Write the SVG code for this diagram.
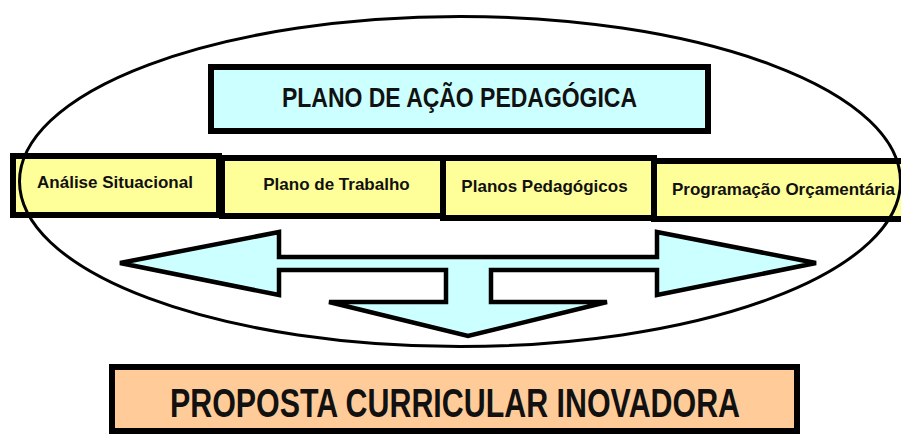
<svg xmlns="http://www.w3.org/2000/svg" width="901" height="435" viewBox="0 0 901 435">
<style>
.box{stroke:#000;stroke-width:6}
.cyan{fill:#CCFFFF}
.yellow{fill:#FFFF99}
.orange{fill:#FFCC99}
.lbl{font-family:"Liberation Sans",Arial,sans-serif;font-weight:bold;fill:#111;text-anchor:middle}
.small{font-size:17px}
</style>
<rect width="901" height="435" fill="#fff"/>
<g id="plano-acao">
<rect class="box cyan" x="211" y="67" width="497" height="64"/>
<text class="lbl" x="459.5" y="107" font-size="28" textLength="355" lengthAdjust="spacingAndGlyphs">PLANO DE AÇÃO PEDAGÓGICA</text>
</g>
<g id="plano-trabalho">
<rect class="box yellow" x="222" y="158" width="222" height="58"/>
<text class="lbl small" x="336.5" y="190">Plano de Trabalho</text>
</g>
<g id="analise">
<rect class="box yellow" x="13" y="156" width="206" height="59"/>
<text class="lbl small" x="115" y="188">Análise Situacional</text>
</g>
<g id="programacao">
<rect class="box yellow" x="654" y="161" width="252" height="58"/>
<text class="lbl small" x="783.5" y="195">Programação Orçamentária</text>
</g>
<g id="planos-pedagogicos">
<rect class="box yellow" x="443" y="158" width="211" height="60"/>
<text class="lbl small" x="544.5" y="192">Planos Pedagógicos</text>
</g>
<g id="connectors">
<polygon points="120,263 279,232 279,257 657,257 657,232 816,263 657,295 657,270 491,270 491,302 607,302 468,336 329,302 446,302 446,270 279,270 279,295" fill="#CCFFFF" stroke="#000" stroke-width="4.5" stroke-linejoin="miter"/>
</g>
<g id="proposta">
<rect class="box orange" x="112" y="367" width="685" height="64"/>
<text class="lbl" transform="translate(455,417) scale(0.76,1)" x="0" y="0" font-size="40">PROPOSTA CURRICULAR INOVADORA</text>
</g>
<g id="contorno">
<ellipse cx="460" cy="181.5" rx="440.5" ry="165" fill="none" stroke="#000" stroke-width="3"/>
</g>
</svg>
